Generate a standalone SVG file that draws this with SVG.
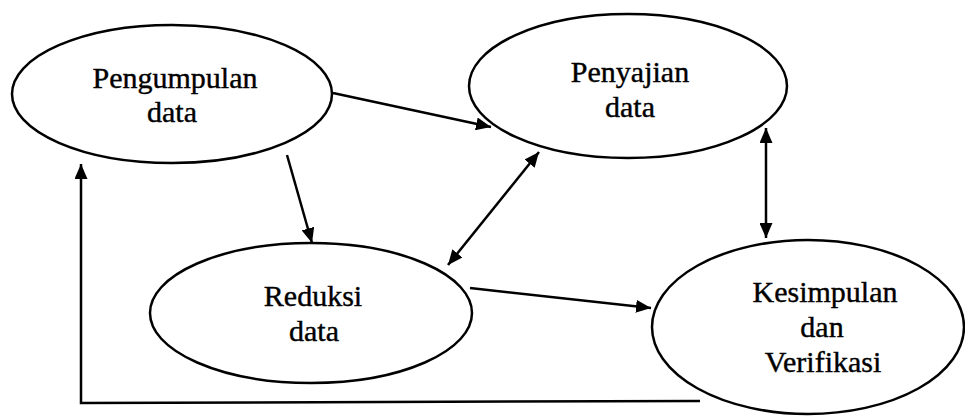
<svg xmlns="http://www.w3.org/2000/svg" width="965" height="417" viewBox="0 0 965 417">
  <style>
    .node ellipse { fill: #ffffff; stroke: #000000; stroke-width: 2.5; }
    .node text { font-family: "Liberation Serif", "Times New Roman", serif; font-size: 30px; fill: #000000; stroke: #000000; stroke-width: 0.4; text-anchor: middle; }
    .links line, .links polyline { stroke: #000000; stroke-width: 2.5; fill: none; }
  </style>
  <defs>
    <marker id="arrow" markerUnits="userSpaceOnUse" markerWidth="15" markerHeight="13" refX="15" refY="6.5" orient="auto-start-reverse">
      <path d="M0,0 L15,6.5 L0,13 z" fill="#000000"/>
    </marker>
  </defs>
  <rect width="965" height="417" fill="#ffffff"/>

  <g id="pengumpulan" class="node">
    <ellipse cx="172" cy="94" rx="160" ry="69"/>
    <text x="175" y="88">Pengumpulan</text>
    <text x="172" y="122">data</text>
  </g>

  <g id="penyajian" class="node">
    <ellipse cx="628" cy="86" rx="159" ry="72"/>
    <text x="630" y="82">Penyajian</text>
    <text x="630" y="117">data</text>
  </g>

  <g id="reduksi" class="node">
    <ellipse cx="311" cy="313" rx="161" ry="70"/>
    <text x="313" y="306">Reduksi</text>
    <text x="314" y="341">data</text>
  </g>

  <g id="kesimpulan" class="node">
    <ellipse cx="808" cy="327" rx="156" ry="87"/>
    <text x="825" y="302">Kesimpulan</text>
    <text x="822" y="337">dan</text>
    <text x="823" y="372">Verifikasi</text>
  </g>

  <g id="connectors" class="links">
    <line x1="333" y1="93" x2="491" y2="127" marker-end="url(#arrow)"/>
    <line x1="287" y1="155" x2="312" y2="243" marker-end="url(#arrow)"/>
    <line x1="448" y1="265" x2="539" y2="152" marker-start="url(#arrow)" marker-end="url(#arrow)"/>
    <line x1="470" y1="288" x2="651" y2="308" marker-end="url(#arrow)"/>
    <line x1="766" y1="128" x2="766" y2="238" marker-start="url(#arrow)" marker-end="url(#arrow)"/>
    <polyline points="700,401 81,403 81,164" marker-end="url(#arrow)"/>
  </g>
</svg>
